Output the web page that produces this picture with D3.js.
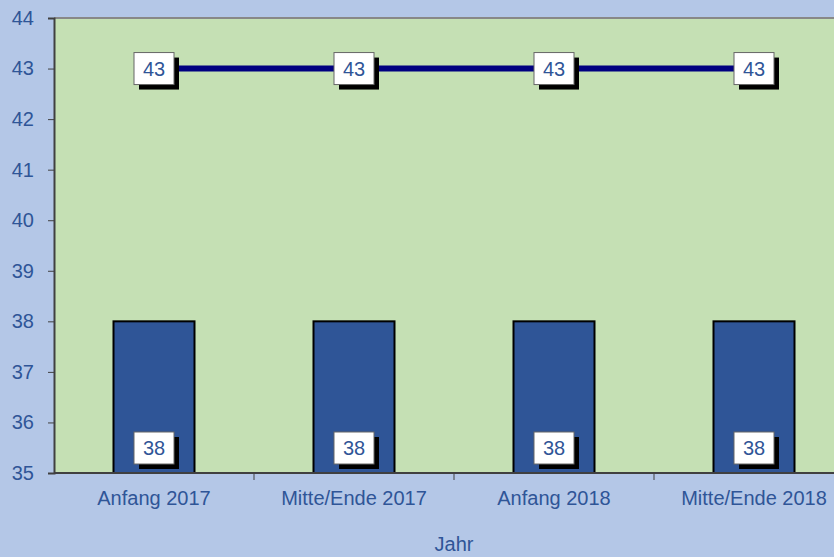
<!DOCTYPE html>
<html>
<head>
<meta charset="utf-8">
<script src="https://cdn.jsdelivr.net/npm/d3@7"></script>
<style>
  body { margin: 0; background: #b4c7e7; }
  svg { display: block; }
</style>
</head>
<body>
<script>
var w = 834;
var h = 557;

var categories = ["Anfang 2017", "Mitte/Ende 2017", "Anfang 2018", "Mitte/Ende 2018"];
var barValues = [38, 38, 38, 38];
var lineValues = [43, 43, 43, 43];
var yTicks = [35, 36, 37, 38, 39, 40, 41, 42, 43, 44];

// plot area edges (note: "top" is reserved on window)
var plotLeft = 54, plotTop = 18, plotRight = 854, plotBottom = 473;
var textColor = "#2f5597";
var font = "Liberation Sans, Arial, sans-serif";

var svg = d3.select("body").append("svg").attr("width", w).attr("height", h);

var x = d3.scaleBand().domain(categories).range([plotLeft, plotRight]);
var y = d3.scaleLinear().domain([35, 44]).range([plotBottom, plotTop]);

// plot area
svg.append("rect")
  .attr("x", plotLeft).attr("y", plotTop)
  .attr("width", plotRight - plotLeft).attr("height", plotBottom - plotTop)
  .attr("fill", "#c5e0b4");

svg.append("line")
  .attr("x1", plotLeft).attr("x2", plotRight)
  .attr("y1", plotTop).attr("y2", plotTop)
  .attr("stroke", "#888").attr("stroke-width", 2);

// bars
var barW = 81;
svg.selectAll("rect.bar")
  .data(barValues)
  .enter()
  .append("rect")
  .attr("class", "bar")
  .attr("x", (d, i) => x(categories[i]) + x.bandwidth() / 2 - barW / 2)
  .attr("y", (d) => y(d))
  .attr("width", barW)
  .attr("height", (d) => plotBottom - y(d))
  .attr("fill", "#2f5597")
  .attr("stroke", "#000")
  .attr("stroke-width", 2);

// line
var line = d3.line()
  .x((d, i) => x(categories[i]) + x.bandwidth() / 2)
  .y((d) => y(d));

svg.append("path")
  .datum(lineValues)
  .attr("d", line)
  .attr("fill", "none")
  .attr("stroke", "#000080")
  .attr("stroke-width", 6);

// axes
var yAxis = svg.append("g")
  .attr("transform", "translate(" + plotLeft + ",0)")
  .call(d3.axisLeft(y).tickValues(yTicks).tickSize(6).tickPadding(14).tickFormat(d3.format("d")));
yAxis.select(".domain").attr("stroke", "#404040").attr("stroke-width", 2);
yAxis.selectAll(".tick line").attr("stroke", "#404040");
yAxis.selectAll("text")
  .attr("font-family", font)
  .attr("font-size", "20px")
  .attr("fill", textColor);

var xAxis = svg.append("g")
  .attr("transform", "translate(0," + plotBottom + ")");
xAxis.append("line")
  .attr("x1", plotLeft).attr("x2", plotRight)
  .attr("stroke", "#404040").attr("stroke-width", 2);
xAxis.selectAll("line.tk")
  .data(categories.slice(1))
  .enter()
  .append("line")
  .attr("class", "tk")
  .attr("x1", (d) => x(d)).attr("x2", (d) => x(d))
  .attr("y1", 0).attr("y2", 7)
  .attr("stroke", "#404040");
xAxis.selectAll("text")
  .data(categories)
  .enter()
  .append("text")
  .text((d) => d)
  .attr("x", (d) => x(d) + x.bandwidth() / 2)
  .attr("y", 32)
  .attr("text-anchor", "middle")
  .attr("font-family", font)
  .attr("font-size", "20px")
  .attr("fill", textColor);

svg.append("text")
  .text("Jahr")
  .attr("x", (plotLeft + plotRight) / 2)
  .attr("y", 551)
  .attr("text-anchor", "middle")
  .attr("font-family", font)
  .attr("font-size", "20px")
  .attr("fill", textColor);

// data labels
function labels(values, cy) {
  var g = svg.selectAll(null)
    .data(values)
    .enter()
    .append("g")
    .attr("transform", (d, i) => "translate(" + (x(categories[i]) + x.bandwidth() / 2) + "," + cy(d) + ")");
  g.append("rect")
    .attr("x", -15).attr("y", -11)
    .attr("width", 40).attr("height", 32)
    .attr("fill", "#000");
  g.append("rect")
    .attr("x", -20).attr("y", -16)
    .attr("width", 40).attr("height", 32)
    .attr("fill", "#fff")
    .attr("stroke", "#666")
    .attr("stroke-width", 1);
  g.append("text")
    .text((d) => d)
    .attr("y", 7)
    .attr("text-anchor", "middle")
    .attr("font-family", font)
    .attr("font-size", "20px")
    .attr("fill", textColor);
}
labels(lineValues, (d) => y(d));
labels(barValues, (d) => plotBottom - 25);
</script>
</body>
</html>
